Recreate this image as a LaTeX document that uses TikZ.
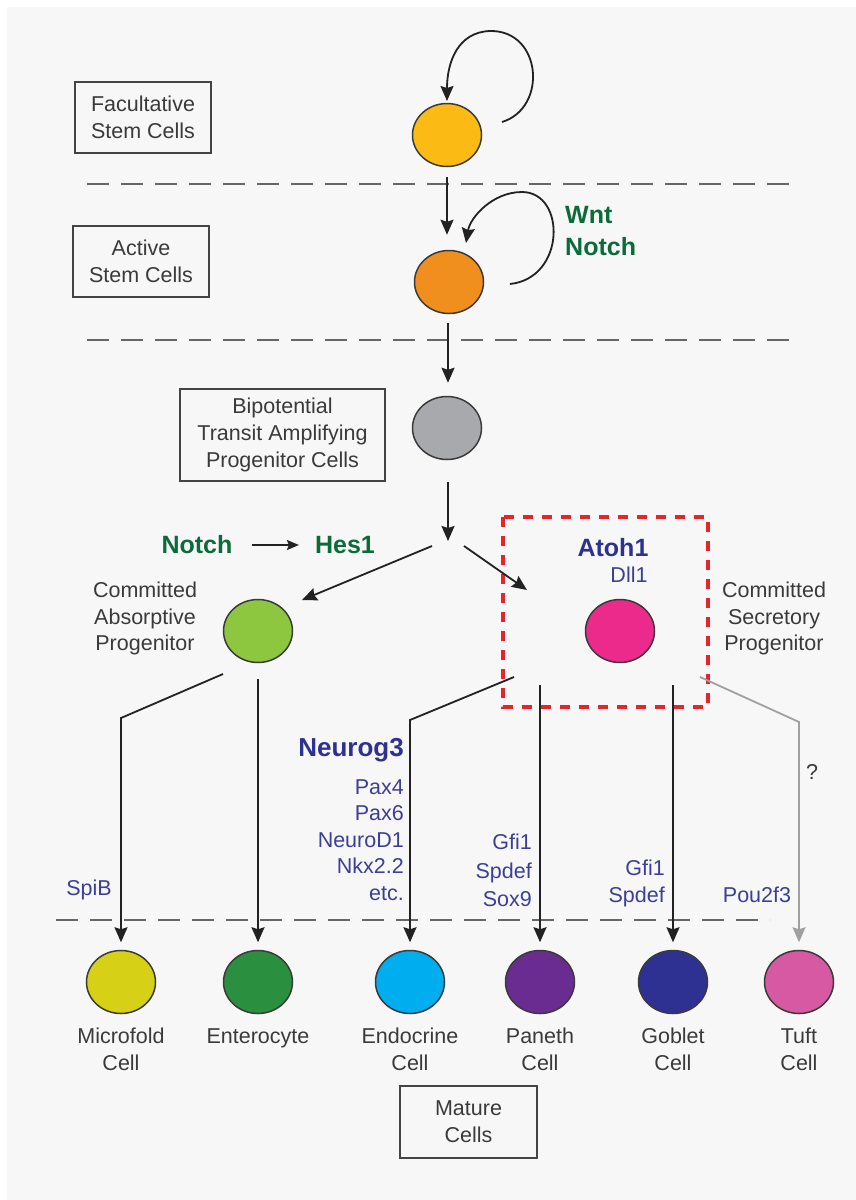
\documentclass[tikz,border=0pt]{standalone}
\usepackage{fontspec}
\setmainfont{Liberation Sans}
\usetikzlibrary{arrows.meta,shapes.geometric,calc}
\definecolor{bgc}{HTML}{F7F7F7}
\definecolor{txt}{HTML}{3A3A3A}
\definecolor{boxline}{HTML}{444444}
\definecolor{cellline}{HTML}{3A3A3A}
\definecolor{lin}{HTML}{222222}
\definecolor{dashc}{HTML}{666666}
\definecolor{sgreen}{HTML}{0B6B3A}
\definecolor{gblue}{HTML}{3C3F96}
\definecolor{dblue}{HTML}{2E3192}
\definecolor{redd}{HTML}{E8242B}
\definecolor{qgray}{HTML}{A0A0A0}
\definecolor{cYellow}{HTML}{FCBB14}
\definecolor{cOrange}{HTML}{F18F1E}
\definecolor{cGrey}{HTML}{A7A9AC}
\definecolor{cLGreen}{HTML}{8DC63F}
\definecolor{cMagenta}{HTML}{EC2A8C}
\definecolor{cMicro}{HTML}{D6D116}
\definecolor{cEntero}{HTML}{2A9040}
\definecolor{cEndo}{HTML}{00AEEF}
\definecolor{cPaneth}{HTML}{6A2C91}
\definecolor{cGoblet}{HTML}{2E3192}
\definecolor{cTuft}{HTML}{D759A3}
\begin{document}
\begin{tikzpicture}[x=1pt,y=-1pt,
  cell/.style={ellipse, draw=cellline, line width=1.5pt, minimum width=69pt, minimum height=63pt, inner sep=0pt},
  lbl/.style={font=\fontsize{21.5}{27}\selectfont, text=txt, align=center, inner sep=0pt},
  stagebox/.style={draw=boxline, line width=1.6pt, font=\fontsize{21.5}{27}\selectfont, text=txt, align=center, inner sep=0pt},
  conn/.style={draw=lin, line width=1.8pt},
  arr/.style={conn, -{Stealth[length=15pt,width=13pt,inset=2pt]}},
  garr/.style={draw=qgray, line width=1.8pt, -{Stealth[length=15pt,width=13pt,inset=2pt]}},
  divider/.style={draw=dashc, line width=2.5pt, dash pattern=on 22pt off 12pt},
  sig/.style={font=\bfseries\fontsize{25}{32}\selectfont, text=sgreen, inner sep=0pt},
  gene/.style={font=\fontsize{21.5}{26.5}\selectfont, text=gblue, inner sep=0pt},
  tf/.style={font=\bfseries\fontsize{25}{30}\selectfont, text=dblue, inner sep=0pt},
]
\useasboundingbox (0,0) rectangle (856,1200);
\fill[white] (0,0) rectangle (856,1200);
\fill[bgc] (7,7) rectangle (856,1200);

% dividers
\draw[divider] (87,184) -- (800,184);
\draw[divider] (87,340) -- (800,340);
\draw[divider] (56,920) -- (770,920);

% red dashed box
\draw[draw=redd, line width=4pt, dash pattern=on 10pt off 9pt] (503,517) rectangle (708,707);

% stage boxes
\node[stagebox, minimum width=136pt, minimum height=71pt] (facbox) at (143,117.5) {Facultative\\Stem Cells};
\node[stagebox, minimum width=136pt, minimum height=71pt] (actbox) at (141,261.5) {Active\\Stem Cells};
\node[stagebox, minimum width=205pt, minimum height=92pt] (bipbox) at (282.5,435) {Bipotential\\Transit Amplifying\\Progenitor Cells};
\node[stagebox, minimum width=137pt, minimum height=72pt] (matbox) at (468.5,1122) {Mature\\Cells};

% cells
\node[cell, fill=cYellow] (fac) at (447,135) {};
\node[cell, fill=cOrange] (act) at (449,282) {};
\node[cell, fill=cGrey] (bip) at (447,428) {};
\node[cell, fill=cLGreen] (abs) at (258,631) {};
\node[cell, fill=cMagenta] (sec) at (620,631) {};
\node[cell, fill=cMicro] (mf) at (121,982) {};
\node[cell, fill=cEntero] (ent) at (258,982) {};
\node[cell, fill=cEndo] (endo) at (410,982) {};
\node[cell, fill=cPaneth] (pan) at (540,982) {};
\node[cell, fill=cGoblet] (gob) at (673,982) {};
\node[cell, fill=cTuft] (tuft) at (799,982) {};

% self-renewal loops
\coordinate (facLoopOut) at (502,122);
\coordinate (facLoopTop) at (490,31);
\coordinate (facLoopIn) at (447,101);
\draw[arr] (facLoopOut) .. controls (548,108) and (542,30) .. (facLoopTop)
  .. controls (458,32) and (447,62) .. (facLoopIn);
\coordinate (actLoopOut) at (510,284);
\coordinate (actLoopTop) at (522,192);
\coordinate (actLoopIn) at (466,243);
\draw[arr] (actLoopOut) .. controls (566,278) and (566,192) .. (actLoopTop)
  .. controls (492,192) and (470,218) .. (actLoopIn);

% main vertical arrows
\coordinate (split) at (448,541);
\draw[arr] ([yshift=-10pt]fac.south) -- ([yshift=15pt]act.north -| fac.south);
\draw[arr] ([yshift=-9pt]act.south -| split) -- ([yshift=13pt]bip.north -| split);
\draw[arr] ([yshift=-22pt]bip.south -| split) -- (split);

% branches
\coordinate (brL) at (432,546);
\coordinate (absIn) at (302,600);
\coordinate (brR) at (464,546);
\coordinate (secIn) at (527,590);
\draw[arr] (brL) -- (absIn);
\draw[arr] (brR) -- (secIn);

% signalling labels
\node[sig, anchor=west, align=left] (wnt) at (565,231) {Wnt\\Notch};
\node[sig] (notchL) at (197,545) {Notch};
\node[sig] (hes) at (345,545) {Hes1};
\draw[conn, -{Stealth[length=12pt,width=10pt,inset=2pt]}, shorten <=19pt, shorten >=16pt] (notchL.east) -- (hes.west);
\node[tf] (atoh) at (613,548) {Atoh1};
\node[gene] (dll) at (629,575) {Dll1};

% progenitor labels
\node[lbl, font=\fontsize{21.5}{26.5}\selectfont] (absLbl) at (145,618.5) {Committed\\Absorptive\\Progenitor};
\node[lbl, font=\fontsize{21.5}{26.5}\selectfont] (secLbl) at (774,618.5) {Committed\\Secretory\\Progenitor};

% lineage paths
\coordinate (absOut) at (223,674);
\coordinate (mfBend) at (121,718);
\coordinate (entStart) at (258,679);
\coordinate (secOut1) at (514,677);
\coordinate (endoBend) at (410,720);
\coordinate (panStart) at (540,685);
\coordinate (gobStart) at (673,685);
\coordinate (secOut2) at (700,677);
\coordinate (tuftBend) at (799,722);
\draw[arr, shorten >=7.5pt] (absOut) -- (mfBend) -- (mf);
\draw[arr, shorten >=7.5pt] (entStart) -- (ent);
\draw[arr, shorten >=7.5pt] (secOut1) -- (endoBend) -- (endo);
\draw[arr, shorten >=7.5pt] (panStart) -- (pan);
\draw[arr, shorten >=7.5pt] (gobStart) -- (gob);
\draw[garr, shorten >=7.5pt] (secOut2) -- (tuftBend) -- (tuft);

% gene labels
\node[tf, anchor=east, font=\bfseries\fontsize{26}{30}\selectfont] (neurog) at (404,750) {Neurog3};
\node[gene, anchor=north east, align=right] (endoGenes) at (404,779) {Pax4\\Pax6\\NeuroD1\\Nkx2.2\\etc.};
\node[gene, anchor=north east, align=right, font=\fontsize{21.5}{28.5}\selectfont] (panGenes) at (532,834) {Gfi1\\Spdef\\Sox9};
\node[gene, anchor=north east, align=right, font=\fontsize{21.5}{27}\selectfont] (gobGenes) at (665,860) {Gfi1\\Spdef};
\node[gene] (spib) at (89,890) {SpiB};
\node[gene] (pou) at (757,895) {Pou2f3};
\node[lbl] (qm) at (812,772) {?};

% mature cell labels
\node[lbl, anchor=north] (mfL) at (121,1028) {Microfold\\Cell};
\node[lbl, anchor=north] (entL) at (258,1028) {Enterocyte};
\node[lbl, anchor=north] (endoL) at (410,1028) {Endocrine\\Cell};
\node[lbl, anchor=north] (panL) at (540,1028) {Paneth\\Cell};
\node[lbl, anchor=north] (gobL) at (673,1028) {Goblet\\Cell};
\node[lbl, anchor=north] (tuftL) at (799,1028) {Tuft\\Cell};
\end{tikzpicture}
\end{document}
